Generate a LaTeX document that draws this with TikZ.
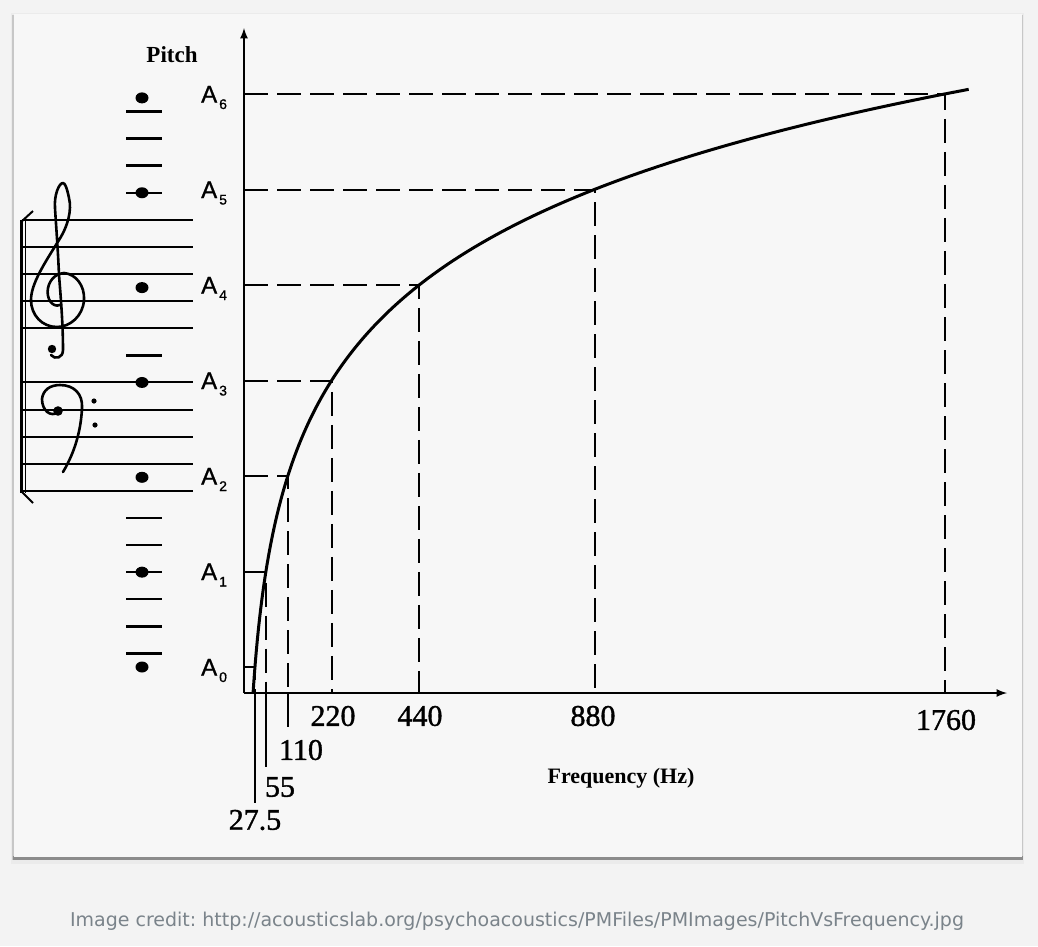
\documentclass[tikz,border=0pt]{standalone}
\usepackage{fontspec}
\setmainfont{Liberation Serif}
\newfontfamily\numfont[FakeBold=1.2]{Liberation Serif}
\newfontfamily\labelfont[FakeBold=1]{Liberation Sans}
\newfontfamily\creditfont{DejaVu Sans}
\usetikzlibrary{positioning}
\definecolor{pagebg}{RGB}{243,243,243}
\definecolor{cardbg}{RGB}{247,247,247}
\definecolor{creditgray}{RGB}{122,131,138}
\frenchspacing

\begin{document}
\begin{tikzpicture}[x=1pt,y=-1pt]
	\tikzstyle{staff}=[line width=2pt]
	\tikzstyle{ledger}=[line width=2.4pt]
	\tikzstyle{axis}=[line width=2.5pt,-latex]
	\tikzstyle{guide}=[line width=2pt,dash pattern=on 24pt off 9pt]
	\tikzstyle{tick}=[line width=2pt]
	\tikzstyle{clef}=[line width=2.6pt,line cap=round,line join=round]
	\tikzstyle{num}=[inner sep=0pt,font=\numfont\fontsize{30}{30}\selectfont]
	\tikzstyle{pitchlbl}=[inner sep=0pt,anchor=base west,font=\labelfont\fontsize{24}{24}\selectfont]
	\useasboundingbox (0,0) rectangle (1038,946);
	\fill[pagebg] (0,0) rectangle (1038,946);
	\fill[black!8] (11,13) rectangle (1024,864);
	\fill[black!22] (12,15) rectangle (1023,860);
	\fill[black!45] (13,856) rectangle (1023,860);
	\fill[cardbg] (14,14) rectangle (1022,857);
		\coordinate (o) at (244,693);
		\coordinate (ytop) at (244,28);
		\coordinate (xend) at (1007,693);
			\draw[axis] (o) -- (ytop);
			\draw[axis] (o) -- (xend);
		\foreach \n/\f in {0/27.5,1/55,2/110,3/220,4/440,5/880,6/1760}{
			\coordinate (y\n) at (244,{667-95.5*\n});
			\coordinate (p\n) at ({244+0.3983*\f},{667-95.5*\n});
			\coordinate (x\n) at ({244+0.3983*\f},693);
			\draw[guide] (y\n) -- (p\n) -- (x\n);
			\node[pitchlbl] (a\n) at (201,{675.5-95.5*\n}) {A\kern2pt\raisebox{-6.5pt}{\fontsize{14}{14}\selectfont\n}};
			\fill (142,{667-94.85*\n}) ellipse (6.5 and 5.5);
		}
			\draw[line width=3pt] plot[domain=-0.272:6.05,samples=120,smooth] ({244+10.953*pow(2,\x)},{667-95.5*\x});
		\node[num] (f3) at (333,716) {220};
		\node[num] (f4) at (420,716) {440};
		\node[num] (f5) at (593,716) {880};
		\node[num] (f6) at (946,720) {1760};
		\node[num] (f2) at (301,750) {110};
		\node[num] (f1) at (280,787) {55};
		\node[num] (f0) at (255,820) {27.5};
		\path (x0) ++(0,110) coordinate (t0);
		\path (x1) ++(0,74) coordinate (t1);
		\path (x2) ++(0,34) coordinate (t2);
			\draw[tick] (x0) -- (t0);
			\draw[tick] (x1) -- (t1);
			\draw[tick] (x2) -- (t2);
		\node[inner sep=0pt,anchor=base,font=\bfseries\fontsize{22}{22}\selectfont] (freq) at (621,783) {Frequency (Hz)};
		\node[inner sep=0pt,font=\bfseries\fontsize{23}{23}\selectfont] (pitch) at (172,55) {Pitch};
		\foreach \s in {13,15,...,21}
			\draw[staff] (22,{667-13.55*\s}) -- (193,{667-13.55*\s});
		\foreach \s in {25,27,...,33}
			\draw[staff] (22,{667-13.55*\s}) -- (193,{667-13.55*\s});
		\foreach \s in {1,3,...,11,23,35,37,39,41}
			\draw[ledger] (126,{667-13.55*\s}) -- (162,{667-13.55*\s});
			\draw[line width=3pt] (21,220) -- (21,493);
			\draw[line width=1.2pt] (25.5,220) -- (25.5,493);
			\draw[line width=2pt] (21,222) -- (33,211);
			\draw[line width=2pt] (21,491) -- (33,503);
			\draw[clef] (60,305) .. controls (52,308) and (46,298) .. (48,288)
				.. controls (50,278) and (58,273) .. (64,273)
				.. controls (76,274) and (85,286) .. (84,300)
				.. controls (83,316) and (70,327) .. (57,327)
				.. controls (42,327) and (31,315) .. (31,300)
				.. controls (31,284) and (44,264) .. (59,240)
				.. controls (68,226) and (72,210) .. (69,198)
				.. controls (67,188) and (65,183) .. (63,183)
				.. controls (59,183) and (54,195) .. (55,208)
				.. controls (56,225) and (58,250) .. (59,275)
				.. controls (61,300) and (63,325) .. (63,350)
				.. controls (63,358) and (55,360) .. (51,355);
			\fill (52,349) circle (4.2);
			\draw[clef] (59,412) .. controls (50,418) and (42,410) .. (42,399)
				.. controls (43,390) and (50,385) .. (60,385)
				.. controls (74,385) and (83,394) .. (82,408)
				.. controls (81,430) and (75,452) .. (63,472);
			\fill (58,411) circle (4.8);
			\fill (94,401) circle (2.6);
			\fill (95,425) circle (2.6);
		\node[inner sep=0pt,anchor=base,text=creditgray,font=\creditfont\fontsize{19}{19}\selectfont] (credit) at (517,926) {Image credit: http://acousticslab.org/psychoacoustics/PMFiles/PMImages/PitchVsFrequency.jpg};
\end{tikzpicture}
\end{document}
